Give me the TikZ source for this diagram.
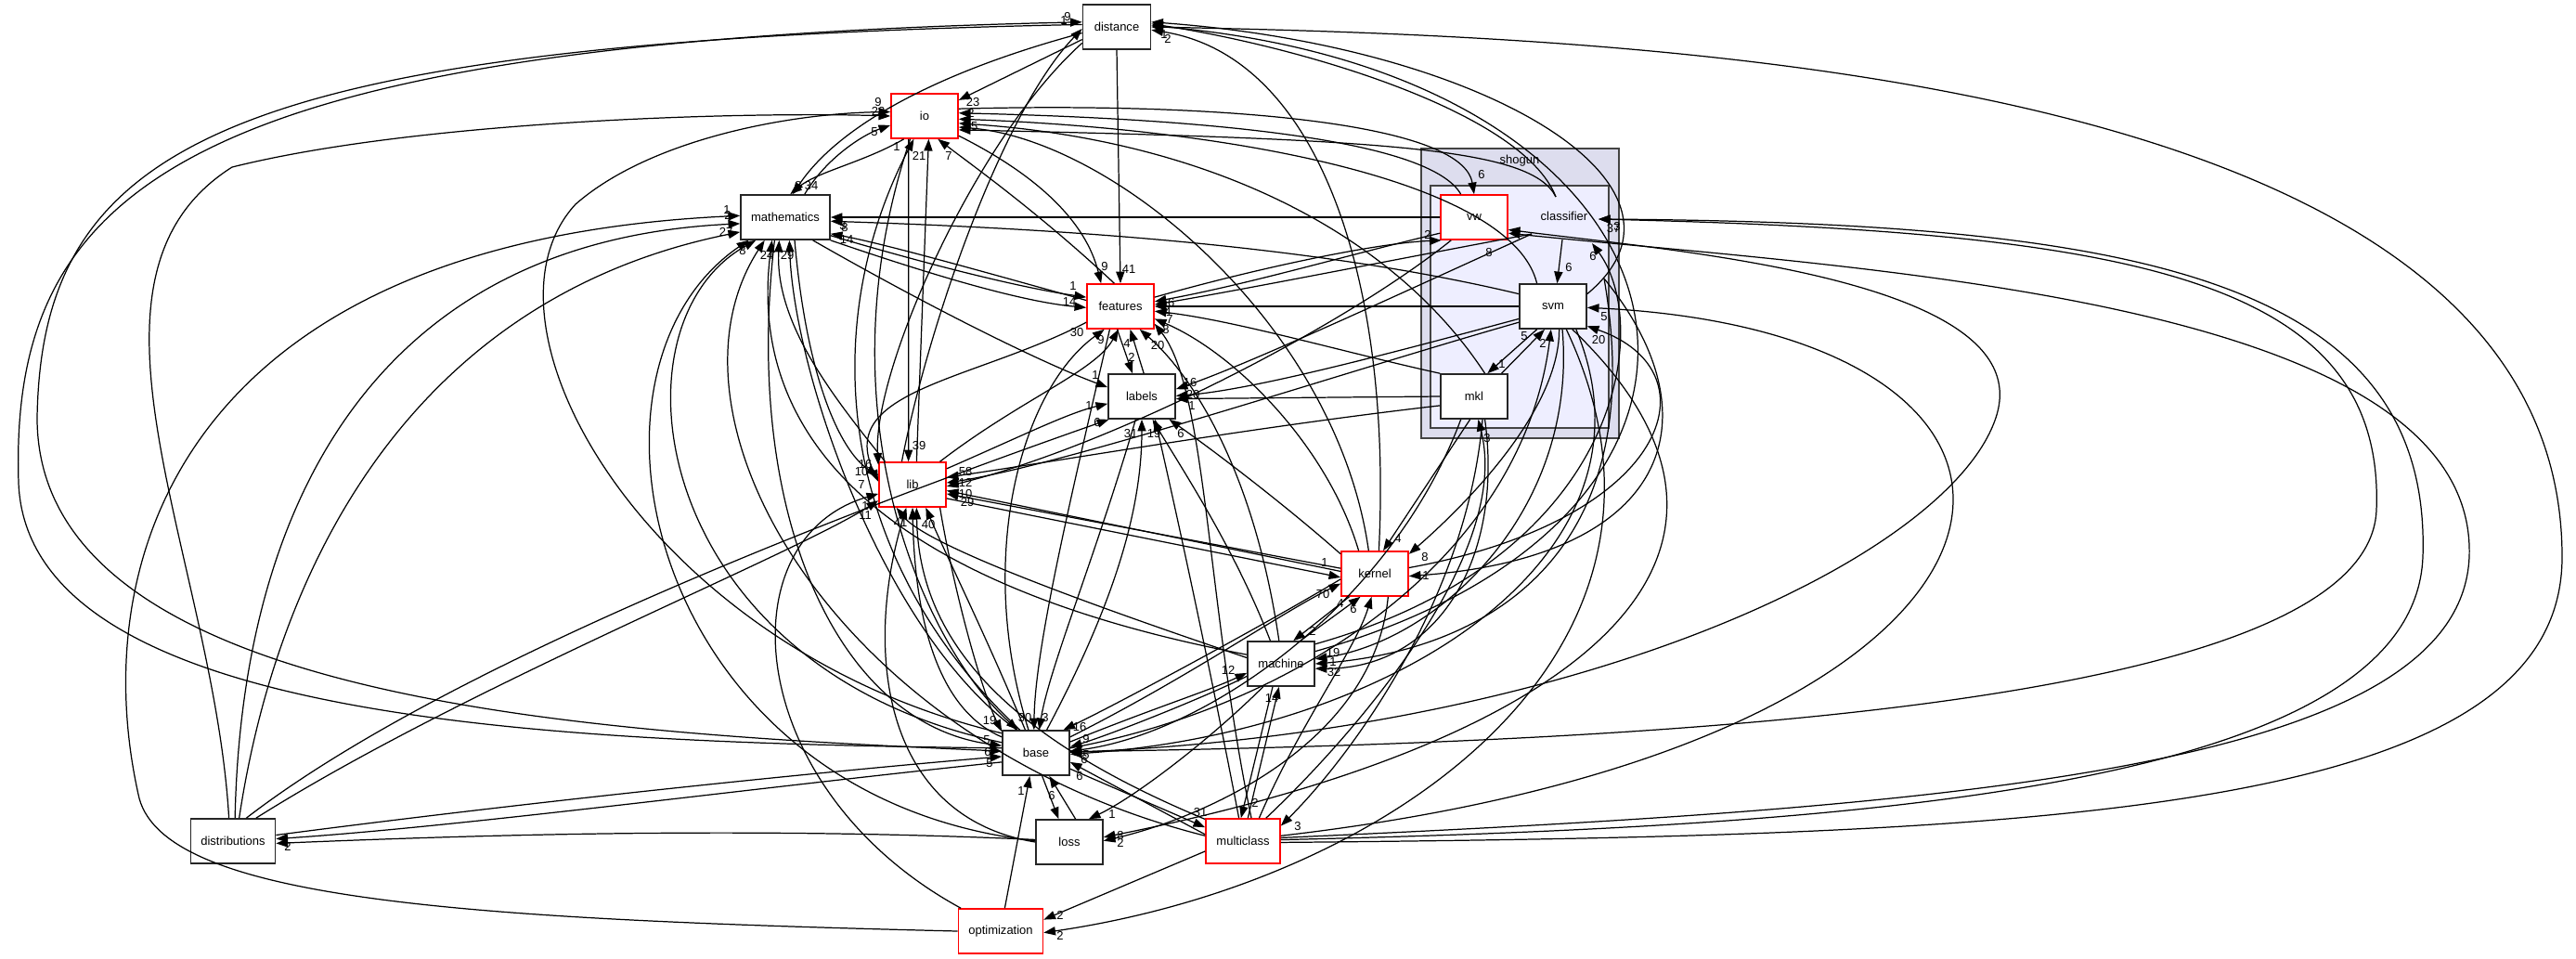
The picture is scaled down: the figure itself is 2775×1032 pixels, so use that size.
\documentclass[tikz,border=0pt]{standalone}
\usepackage{fontspec}
\setmainfont{Liberation Sans}
\usetikzlibrary{arrows.meta}
\definecolor{outerc}{HTML}{DDDDEE}
\definecolor{innerc}{HTML}{EEEEFF}
\definecolor{clborder}{HTML}{444444}
\newcommand\nodefs{\fontsize{3.7pt}{4.4pt}\selectfont}
\begin{document}
\begin{tikzpicture}[x=0.01cm,y=-0.01cm,
  box/.style={draw=black!85, fill=white, line width=0.45pt, minimum width=0.72cm, minimum height=0.48cm, inner sep=0pt, font=\nodefs},
  redbox/.style={box, draw=red},
  e/.style={-{Triangle[length=3.6pt,width=2.6pt]}, line width=0.35pt},
  lab/.style={font=\nodefs, inner sep=0pt},
  clus/.style={draw=clborder, line width=0.6pt}
]
\useasboundingbox (0,0) rectangle (2775,1032);
% cluster
\draw[clus, fill=outerc] (1531,160) rectangle (1744,472);
\node[lab] (shogunlbl) at (1637,173) {shogun};
\draw[clus, fill=innerc] (1541,200) rectangle (1733,461);
\node[lab] (cl) at (1685,233) {classifier};
\coordinate (clT) at (1676,212);
\coordinate (clS) at (1683,258);
\coordinate (clR) at (1722,236);
\coordinate (clW) at (1650,252);
\coordinate (clBR) at (1715,262);
\coordinate (clE) at (1728,300);
% nodes
\node[box, minimum width=0.73cm] (distance) at (1203,29) {distance};
\node[redbox] (io) at (996,125) {io};
\node[box, minimum width=0.96cm] (mathematics) at (846,234) {mathematics};
\node[redbox] (features) at (1207,330) {features};
\node[box] (labels) at (1230,427) {labels};
\node[redbox] (lib) at (983,522) {lib};
\node[redbox] (kernel) at (1481,618) {kernel};
\node[box] (machine) at (1380,715) {machine};
\node[box] (base) at (1116,811) {base};
\node[box] (loss) at (1152,907) {loss};
\node[redbox, minimum width=0.8cm] (multiclass) at (1339,906) {multiclass};
\node[redbox, minimum width=0.91cm] (optimization) at (1078,1003) {optimization};
\node[box, minimum width=0.91cm] (distributions) at (251,906) {distributions};
\node[redbox] (vw) at (1588,234) {vw};
\node[box] (svm) at (1673,330) {svm};
\node[box] (mkl) at (1588,427) {mkl};

% distance outgoing
\draw[e] (distance.200) -- (io.25) node[lab,at={(1048,110)}]{23};
\draw[e] (distance.south) -- (features.north) node[lab,at={(1216,290)}]{41};
\draw[e] (distance.190) .. controls (1000,80) and (900,140) .. (mathematics.72) node[lab,at={(874,200)}]{34};
\draw[e] (distance.176) .. controls (250,45) and (45,150) .. (40,450) .. controls (40,760) and (650,790) .. (base.177) node[lab,at={(1066,822)}]{5};
\draw[e] (distance.205) .. controls (1050,150) and (940,400) .. (lib.150) node[lab,at={(928,508)}]{10};
% into distance
\draw[e] (base.172) .. controls (600,800) and (30,780) .. (20,520) .. controls (10,200) and (200,45) .. (distance.172) node[lab,at={(1150,18)}]{9};
\draw[e] (lib.115) .. controls (1000,350) and (1080,120) .. (distance.183) node[lab,at={(1146,22)}]{1};
\draw[e] (clT) .. controls (1640,120) and (1400,50) .. (distance.5) node[lab,at={(1254,37)}]{1};
\draw[e] (kernel.80) .. controls (1500,300) and (1420,60) .. (distance.355) node[lab,at={(1258,42)}]{2};
\draw[e] (machine.20) .. controls (1950,550) and (1850,80) .. (distance.2);
\draw[e] (multiclass.358) .. controls (2200,900) and (2760,880) .. (2760,600) .. controls (2760,80) and (1800,40) .. (distance.east);
\draw[e] (svm.20) .. controls (1850,200) and (1600,50) .. (distance.8);
% io
\draw[e] (distributions.100) .. controls (230,600) and (60,300) .. (250,180) .. controls (450,130) and (800,120) .. (io.180) node[lab,at={(946,120)}]{22};
\draw[e] (base.150) .. controls (700,700) and (500,350) .. (620,220) .. controls (700,150) and (850,122) .. (io.173) node[lab,at={(946,110)}]{9};
\draw[e] (mathematics.50) .. controls (890,170) and (930,145) .. (io.195) node[lab,at={(942,142)}]{5};
\draw[e] (io.228) .. controls (930,175) and (880,185) .. (mathematics.78) node[lab,at={(860,200)}]{8};
\draw[e] (lib.80) -- (io.280) node[lab,at={(990,168)}]{21};
\draw[e] (io.235) -- (lib.100) node[lab,at={(990,480)}]{39};
\draw[e] (base.125) .. controls (900,600) and (880,350) .. (io.245) node[lab,at={(966,158)}]{1};
\draw[e] (features.105) .. controls (1120,230) and (1050,180) .. (io.300) node[lab,at={(1022,168)}]{7};
\draw[e] (io.330) .. controls (1120,190) and (1170,240) .. (features.130) node[lab,at={(1190,287)}]{9};
\draw[e] (vw.120) .. controls (1540,150) and (1300,128) .. (io.5) node[lab,at={(1046,122)}]{2};
\draw[e] (io.12) .. controls (1300,110) and (1575,130) .. (vw.north) node[lab,at={(1596,188)}]{6};
\draw[e] (svm.125) .. controls (1630,200) and (1350,140) .. (io.355);
\draw[e] (mkl.65) .. controls (1500,250) and (1300,150) .. (io.348) node[lab,at={(1046,136)}]{45};
\draw[e] (kernel.105) .. controls (1440,350) and (1200,150) .. (io.342);
\draw[e] (clT) .. controls (1650,160) and (1500,150) .. (io.338);
% mathematics
\draw[e] (vw.west) -- (mathematics.east) node[lab,at={(908,243)}]{3};
\draw[e] (svm.160) .. controls (1400,260) and (1100,245) .. (mathematics.355) node[lab,at={(910,245)}]{8};
\draw[e] (features.170) .. controls (1050,290) and (950,262) .. (mathematics.340) node[lab,at={(912,258)}]{14};
\draw[e] (mathematics.338) .. controls (1000,285) and (1100,310) .. (features.165) node[lab,at={(1156,308)}]{1};
\draw[e] (mathematics.333) .. controls (1000,295) and (1100,325) .. (features.182) node[lab,at={(1152,325)}]{14};
\draw[e] (mathematics.320) .. controls (1000,330) and (1120,390) .. (labels.165) node[lab,at={(1180,404)}]{1};
\draw[e] (lib.140) .. controls (900,430) and (835,350) .. (mathematics.255) node[lab,at={(826,275)}]{24};
\draw[e] (base.130) .. controls (950,680) and (855,400) .. (mathematics.280) node[lab,at={(848,275)}]{29};
\draw[e] (base.163) .. controls (700,720) and (650,350) .. (mathematics.218) node[lab,at={(800,270)}]{8};
\draw[e] (machine.165) .. controls (1000,640) and (800,500) .. (mathematics.240);
\draw[e] (distributions.85) .. controls (260,550) and (400,260) .. (mathematics.188) node[lab,at={(782,250)}]{27};
\draw[e] (optimization.west) .. controls (500,990) and (180,970) .. (150,860) .. controls (90,600) and (200,260) .. (mathematics.178) node[lab,at={(783,226)}]{1};
\draw[e] (distributions.75) .. controls (300,600) and (450,320) .. (mathematics.198) node[lab,at={(784,232)}]{2};
\draw[e] (multiclass.172) .. controls (900,800) and (700,450) .. (mathematics.228);
\draw[e] (loss.178) .. controls (700,860) and (600,400) .. (mathematics.212);
% features
\draw[e] (lib.40) .. controls (1100,430) and (1180,400) .. (features.265) node[lab,at={(1186,366)}]{9};
\draw[e] (base.108) .. controls (1050,600) and (1100,420) .. (features.235) node[lab,at={(1160,358)}]{30};
\draw[e] (features.262) -- (labels.112) node[lab,at={(1219,385)}]{2};
\draw[e] (labels.85) -- (features.293) node[lab,at={(1214,370)}]{4};
\draw[e] (vw.205) .. controls (1450,275) and (1350,305) .. (features.8);
\draw[e] (features.15) .. controls (1350,290) and (1480,262) .. (vw.215) node[lab,at={(1538,253)}]{2};
\draw[e] (svm.west) -- (features.east) node[lab,at={(1258,336)}]{4};
\draw[e] (mkl.146) .. controls (1450,380) and (1330,345) .. (features.352) node[lab,at={(1260,344)}]{7};
\draw[e] (kernel.125) .. controls (1430,480) and (1330,380) .. (features.340) node[lab,at={(1256,355)}]{8};
\draw[e] (machine.95) .. controls (1350,500) and (1280,400) .. (features.310) node[lab,at={(1247,372)}]{20};
\draw[e] (multiclass.70) .. controls (1300,650) and (1300,420) .. (features.333);
\draw[e] (clW) .. controls (1500,280) and (1350,310) .. (features.3) node[lab,at={(1258,326)}]{16};
% labels
\draw[e] (lib.25) .. controls (1100,470) and (1150,445) .. (labels.192) node[lab,at={(1173,437)}]{1};
\draw[e] (base.65) .. controls (1200,650) and (1230,550) .. (labels.270) node[lab,at={(1218,467)}]{31};
\draw[e] (machine.115) .. controls (1330,590) and (1270,500) .. (labels.295) node[lab,at={(1243,467)}]{19};
\draw[e] (kernel.150) .. controls (1380,540) and (1300,480) .. (labels.320) node[lab,at={(1272,467)}]{6};
\draw[e] (distributions.60) .. controls (500,700) and (1000,520) .. (labels.215) node[lab,at={(1182,455)}]{6};
\draw[e] (clW) .. controls (1500,320) and (1350,390) .. (labels.12) node[lab,at={(1282,412)}]{16};
\draw[e] (svm.200) .. controls (1500,380) and (1350,420) .. (labels.1) node[lab,at={(1285,425)}]{20};
\draw[e] (mkl.west) -- (labels.356) node[lab,at={(1284,437)}]{1};
% lib
\draw[e] (mathematics.292) .. controls (870,420) and (910,490) .. (lib.165) node[lab,at={(932,500)}]{16};
\draw[e] (features.205) .. controls (1050,410) and (900,420) .. (lib.175) node[lab,at={(928,522)}]{7};
\draw[e] (distributions.45) .. controls (500,740) and (850,600) .. (lib.205) node[lab,at={(932,545)}]{1};
\draw[e] (base.155) .. controls (1000,760) and (985,640) .. (lib.270) node[lab,at={(970,563)}]{41};
\draw[e] (base.115) .. controls (1060,680) and (1020,600) .. (lib.300) node[lab,at={(1000,565)}]{40};
\draw[e] (mkl.195) .. controls (1350,460) and (1150,495) .. (lib.12) node[lab,at={(1040,508)}]{58};
\draw[e] (svm.205) .. controls (1450,400) and (1150,500) .. (lib.3) node[lab,at={(1040,520)}]{12};
\draw[e] (vw.225) .. controls (1450,350) and (1200,480) .. (lib.357);
\draw[e] (kernel.176) -- (lib.350) node[lab,at={(1040,532)}]{10};
\draw[e] (kernel.171) -- (lib.345) node[lab,at={(1042,541)}]{29};
\draw[e] (lib.338) -- (kernel.186) node[lab,at={(1427,606)}]{1};
\draw[e] (machine.170) .. controls (1200,660) and (1000,590) .. (lib.235) node[lab,at={(932,555)}]{11};
\draw[e] (optimization.150) .. controls (800,850) and (780,580) .. (lib.195);
\draw[e] (loss.west) .. controls (950,880) and (930,700) .. (lib.255);
% kernel
\draw[e] (mkl.260) -- (kernel.70) node[lab,at={(1506,580)}]{4};
\draw[e] (svm.285) .. controls (1680,450) and (1560,560) .. (kernel.30) node[lab,at={(1535,600)}]{8};
\draw[e] (clE) .. controls (1850,450) and (1800,600) .. (kernel.356) node[lab,at={(1536,620)}]{1};
\draw[e] (machine.50) -- (kernel.238) node[lab,at={(1444,650)}]{4};
\draw[e] (kernel.222) -- (machine.62) node[lab,at={(1414,680)}]{2};
\draw[e] (multiclass.55) .. controls (1400,780) and (1460,700) .. (kernel.262) node[lab,at={(1458,656)}]{6};
\draw[e] (base.25) .. controls (1280,730) and (1380,660) .. (kernel.196) node[lab,at={(1425,640)}]{70};
\draw[e] (kernel.189) .. controls (1350,680) and (1200,760) .. (base.40) node[lab,at={(1163,783)}]{16};
% machine
\draw[e] (base.18) .. controls (1250,760) and (1300,745) .. (machine.195) node[lab,at={(1323,722)}]{12};
\draw[e] (machine.200) .. controls (1300,750) and (1200,790) .. (base.10) node[lab,at={(1170,796)}]{9};
\draw[e] (svm.292) .. controls (1700,550) and (1550,690) .. (machine.8) node[lab,at={(1436,703)}]{19};
\draw[e] (clE) .. controls (1780,600) and (1600,700) .. (machine.0) node[lab,at={(1436,713)}]{1};
\draw[e] (mkl.295) .. controls (1620,600) and (1550,720) .. (machine.352) node[lab,at={(1437,724)}]{32};
\draw[e] (multiclass.78) -- (machine.265) node[lab,at={(1370,752)}]{14};
\draw[e] (machine.250) -- (multiclass.95) node[lab,at={(1352,865)}]{2};
\draw[e] (machine.232) .. controls (1300,800) and (1220,860) .. (loss.50) node[lab,at={(1198,877)}]{1};
% base
\draw[e] (io.238) .. controls (880,450) and (1000,700) .. (base.128) node[lab,at={(1066,776)}]{19};
\draw[e] (features.245) .. controls (1150,550) and (1115,700) .. (base.95) node[lab,at={(1104,773)}]{30};
\draw[e] (labels.255) .. controls (1180,600) and (1130,720) .. (base.82) node[lab,at={(1126,773)}]{3};
\draw[e] (lib.320) .. controls (1030,650) and (1060,750) .. (base.148);
\draw[e] (mathematics.245) .. controls (800,550) and (900,780) .. (base.168) node[lab,at={(1063,797)}]{5};
\draw[e] (distributions.8) .. controls (600,860) and (900,830) .. (base.186) node[lab,at={(1064,810)}]{6};
\draw[e] (base.195) .. controls (800,850) and (500,890) .. (distributions.3) node[lab,at={(310,912)}]{2};
\draw[e] (loss.176) .. controls (800,890) and (500,900) .. (distributions.357);
\draw[e] (svm.315) .. controls (1800,600) and (1500,790) .. (base.358) node[lab,at={(1168,818)}]{6};
\draw[e] (mkl.240) .. controls (1500,650) and (1300,790) .. (base.3) node[lab,at={(1170,813)}]{5};
\draw[e] (base.2) .. controls (1800,800) and (2550,760) .. (2560,550) .. controls (2570,300) and (2300,250) .. (clR) node[lab,at={(1738,246)}]{37};
\draw[e] (multiclass.2) .. controls (2000,890) and (2600,850) .. (2610,600) .. controls (2620,300) and (2300,240) .. (clR) node[lab,at={(1742,244)}]{3};
\draw[e] (multiclass.5) .. controls (2100,870) and (2650,830) .. (2660,600) .. controls (2670,320) and (2000,290) .. (vw.335) node[lab,at={(1604,272)}]{8};
\draw[e] (base.1) .. controls (1700,790) and (2100,600) .. (2150,450) .. controls (2200,300) and (1800,270) .. (vw.340);
% classifier internal
\draw[e] (clS) -- (svm.80) node[lab,at={(1690,288)}]{6};
\draw[e] (svm.235) -- (mkl.60) node[lab,at={(1618,392)}]{1};
\draw[e] (mkl.40) -- (svm.250) node[lab,at={(1642,362)}]{5};
\draw[e] (base.8) .. controls (1400,760) and (1640,600) .. (svm.265) node[lab,at={(1662,370)}]{2};
\draw[e] (multiclass.8) .. controls (2250,800) and (2300,360) .. (svm.358) node[lab,at={(1728,341)}]{5};
\draw[e] (kernel.10) .. controls (1800,560) and (1850,400) .. (svm.330) node[lab,at={(1722,366)}]{20};
\draw[e] (machine.30) .. controls (1750,600) and (1780,350) .. (clBR) node[lab,at={(1716,276)}]{6};
% loss
\draw[e] (base.285) -- (loss.115);
\draw[e] (loss.75) -- (base.300) node[lab,at={(1133,857)}]{6};
\draw[e] (svm.310) .. controls (1950,600) and (1700,800) .. (loss.8) node[lab,at={(1207,900)}]{8};
\draw[e] (kernel.300) .. controls (1480,800) and (1300,880) .. (loss.2) node[lab,at={(1207,908)}]{2};
% optimization
\draw[e] (optimization.80) -- (base.255) node[lab,at={(1100,852)}]{1};
\draw[e] (multiclass.195) -- (optimization.15) node[lab,at={(1142,986)}]{2};
\draw[e] (svm.300) .. controls (1850,700) and (1500,950) .. (optimization.358) node[lab,at={(1142,1008)}]{2};
% multiclass
\draw[e] (base.335) -- (multiclass.160) node[lab,at={(1293,875)}]{31};
\draw[e] (multiclass.170) -- (base.345) node[lab,at={(1163,836)}]{6};
\draw[e] (mkl.290) .. controls (1580,650) and (1450,820) .. (multiclass.22) node[lab,at={(1398,890)}]{3};
\draw[e] (multiclass.45) .. controls (1450,800) and (1630,600) .. (mkl.280) node[lab,at={(1602,472)}]{3};
\draw[e] (multiclass.150) .. controls (1100,800) and (990,700) .. (lib.280);
\draw[e] (multiclass.100) .. controls (1300,700) and (1260,520) .. (labels.300);
\end{tikzpicture}
\end{document}
